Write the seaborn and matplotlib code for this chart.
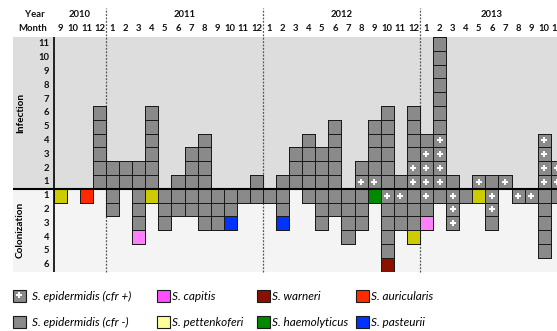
import numpy as np
import pandas as pd
import matplotlib
matplotlib.use("Agg")
import matplotlib.pyplot as plt
from matplotlib.colors import ListedColormap, to_rgba
from matplotlib.patches import Patch
from matplotlib.lines import Line2D
from matplotlib.legend_handler import HandlerTuple
import seaborn as sns

# one column per month, Sep 2010 .. Nov 2013 (last one is cut at the edge)
months = [9, 10, 11, 12] + list(range(1, 13)) * 2 + list(range(1, 12))
years = ["2010"] * 4 + ["2011"] * 12 + ["2012"] * 12 + ["2013"] * 11

# one letter per isolate:
# P = S. epidermidis cfr+, N = S. epidermidis cfr-, C = capitis, Y = pettenkoferi,
# W = warneri, R = auricularis, G = haemolyticus, B = pasteurii
# infection is stacked upward from the baseline
infection = ["", "", "", "NNNNNN",
             "NN", "NN", "NN", "NNNNNN", "", "N", "NNN", "NNNN", "", "", "", "N",
             "", "N", "NNN", "NNNN", "NNN", "NNNNN", "", "PN", "PNNNN", "NNNNNN", "N", "PPNNNN",
             "PPPN", "PPPPNNNNNNN", "N", "", "P", "N", "P", "", "", "PPPP", "PP"]
# colonization is stacked downward from the baseline
colonization = ["Y", "", "R", "",
                "NN", "", "NNNC", "Y", "NNN", "NN", "NN", "NNN", "NNN", "NNB", "N", "N",
                "N", "NNB", "", "N", "NNN", "NN", "NNNN", "NNN", "G", "PNNNNW", "PNN", "NNNY",
                "PNC", "N", "PPP", "N", "Y", "PPN", "", "P", "P", "NNNNN", "N"]

codes = ["P", "N", "C", "Y", "W", "R", "G", "B"]
names = ["S. epidermidis (cfr +)", "S. epidermidis (cfr -)", "S. capitis",
         "S. pettenkoferi", "S. warneri", "S. auricularis", "S. haemolyticus",
         "S. pasteurii"]
cell_colors = ["#8a8a8a", "#8a8a8a", "#ff80ff", "#cccc00", "#8b1000",
               "#ff2a00", "#008a00", "#0033ff"]
legend_colors = ["#8a8a8a", "#8a8a8a", "#ff4dff", "#ffff99", "#8b1000",
                 "#ff2a00", "#008a00", "#0033ff"]

n_inf, n_col = 11, 6
edge_col = "#1a1a1a"

plt.rcParams["font.family"] = ["Lato", "DejaVu Sans"]

# grid of cells, row 0 = infection level 11 (top)
grid = np.full((n_inf + n_col, len(months)), np.nan)
for j, s in enumerate(infection):
    for k, c in enumerate(s):
        grid[n_inf - 1 - k, j] = codes.index(c)
for j, s in enumerate(colonization):
    for k, c in enumerate(s):
        grid[n_inf + k, j] = codes.index(c)
empty = np.isnan(grid)

fig = plt.figure(figsize=(5.57, 3.31), dpi=100)
# px geometry: columns 13.08 px wide starting at x=53.7, rows from y=37 to 271.5
W, H = 557, 331
x0, cw = 53.7, 13.08
ax = fig.add_axes([13 / W, 1 - 271.5 / H, (W - 13) / W, 234.5 / H])

ax.axhspan(0, n_inf, color="#dddddd", zorder=0, lw=0)
ax.axhspan(n_inf, n_inf + n_col, color="#f4f4f4", zorder=0, lw=0)

sns.heatmap(grid, mask=empty, cmap=ListedColormap(cell_colors), vmin=-0.5, vmax=7.5,
            cbar=False, linewidths=0.6, linecolor=edge_col, ax=ax,
            xticklabels=False, yticklabels=False)
mesh = ax.collections[-1]
edges = np.zeros((grid.size, 4))
edges[~empty.ravel()] = to_rgba(edge_col)
mesh.set_edgecolor(edges)
mesh.set_zorder(2)

# white crosses for cfr+ isolates
rr, cc = np.where(grid == codes.index("P"))
plus = pd.DataFrame({"x": cc + 0.5, "y": rr + 0.5})
sns.scatterplot(data=plus, x="x", y="y", marker="+", color="white", s=22,
                linewidth=1.4, ax=ax, legend=False, zorder=3)

# year boundaries
bounds = [j for j, m in enumerate(months) if m == 1]
ax.vlines(bounds, n_inf + n_col, -2.1, colors="#555555", linewidth=0.9,
          linestyles=(0, (1.5, 1.2)), clip_on=False, zorder=1)

ax.axvline(0, color="black", lw=1.2, zorder=4)
ax.axhline(n_inf, color="black", lw=1.5, zorder=4)

ax.set_xlim((13 - x0) / cw, (W - x0) / cw)
ax.set_ylim(n_inf + n_col, 0)
ax.set_xticks([])
ax.set_yticks([])
ax.set(xlabel="", ylabel="")
for sp in ax.spines.values():
    sp.set_visible(False)

lab = dict(fontsize=6.8, fontweight="bold", color="#111111")
for i in range(n_inf):
    ax.text(-0.35, i + 0.5, str(n_inf - i), ha="right", va="center", **lab)
for k in range(n_col):
    ax.text(-0.35, n_inf + k + 0.5, str(k + 1), ha="right", va="center", **lab)
for j, m in enumerate(months):
    ax.text(j + 0.5, -0.6, str(m), ha="center", va="center", **lab)
for y in dict.fromkeys(years):
    idx = [j for j, v in enumerate(years) if v == y]
    ax.text(np.mean(idx) + 0.5, -1.62, y, ha="center", va="center", **lab)
ax.text((35 - x0) / cw, -1.62, "Year", ha="center", va="center", **lab)
ax.text((32.5 - x0) / cw, -0.6, "Month", ha="center", va="center", **lab)
ax.text((21 - x0) / cw, n_inf / 2, "Infection", rotation=90, ha="center",
        va="center", fontsize=7.2, fontweight="bold")
ax.text((20 - x0) / cw, n_inf + n_col / 2, "Colonization", rotation=90,
        ha="center", va="center", fontsize=7.2, fontweight="bold")

# legend: four columns of two entries
def swatch(i):
    p = Patch(facecolor=legend_colors[i], edgecolor=edge_col, linewidth=0.8)
    if codes[i] == "P":
        return (p, Line2D([], [], marker="+", color="white", markersize=5,
                          markeredgewidth=1.4, linestyle="none"))
    return p

groups = [["P", "N"], ["C", "Y"], ["W", "G"], ["R", "B"]]
left_px = [13, 157, 257, 356]
pads = [0.51, 0.25, 0.25, 0.25]
for grp, lx, pad in zip(groups, left_px, pads):
    ids = [codes.index(c) for c in grp]
    fig.legend([swatch(i) for i in ids], [names[i] for i in ids],
               handler_map={tuple: HandlerTuple(ndivide=1)},
               loc="center left", bbox_to_anchor=(lx / W, 1 - 309 / H),
               frameon=False, borderpad=0, borderaxespad=0,
               handlelength=1.06, handleheight=1.14, handletextpad=pad,
               labelspacing=1.23, prop=dict(family=["Lato", "DejaVu Sans"],
                                            style="italic", size=8.5))

fig.savefig("out.png", dpi=100)
